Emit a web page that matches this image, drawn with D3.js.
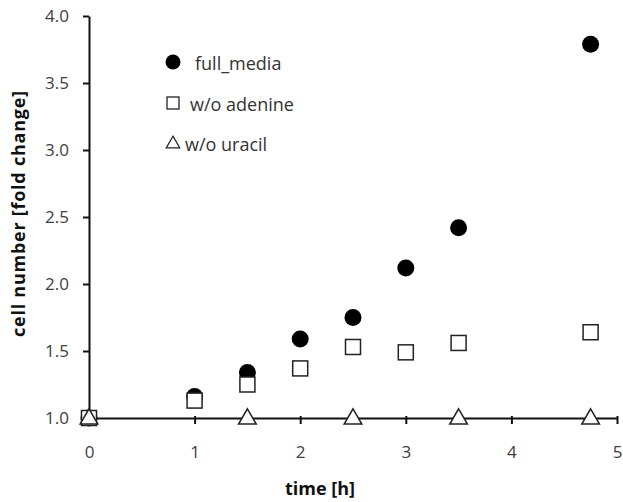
<!DOCTYPE html>
<html lang="en">
<head>
<meta charset="utf-8">
<title>cell number</title>
<script src="https://cdn.jsdelivr.net/npm/d3@7"></script>
<style>
  body { margin: 0; background: #fff; }
  text { font-family: "Open Sans", sans-serif; }
</style>
</head>
<body>
<div id="chart"></div>
<script>
var time = [0, 1, 1.5, 2, 2.5, 3, 3.5, 4.75];
var fullMedia = [1.0, 1.16, 1.34, 1.59, 1.75, 2.12, 2.42, 3.79];
var woAdenine = [1.0, 1.13, 1.25, 1.37, 1.53, 1.49, 1.56, 1.64];
var timeUracil = [0, 1.5, 2.5, 3.5, 4.75];
var woUracil = [1.0, 1.0, 1.0, 1.0, 1.0];
var seriesNames = ["full_media", "w/o adenine", "w/o uracil"];
var xTicks = [0, 1, 2, 3, 4, 5];
var yTicks = [1.0, 1.5, 2.0, 2.5, 3.0, 3.5, 4.0];

var margin = {top: 16, right: 6, bottom: 84, left: 89};
var W = 623, H = 502;

var svg = d3.select("#chart").append("svg")
    .attr("width", W)
    .attr("height", H);
var g = svg.append("g")
    .attr("transform", "translate(" + margin.left + "," + margin.top + ")");

var x = d3.scaleLinear().domain([0, 5]).range([0, 528]);
var y = d3.scaleLinear().domain([1, 4]).range([402, 0]);

var xAxis = d3.axisBottom(x).tickValues(xTicks).tickFormat(d3.format("d"))
    .tickSize(6).tickSizeOuter(0).tickPadding(22);
var yAxis = d3.axisLeft(y).tickValues(yTicks).tickFormat(d3.format(".1f"))
    .tickSize(6).tickSizeOuter(0).tickPadding(14);

var gx = g.append("g").attr("transform", "translate(0," + y(1) + ")").call(xAxis);
var gy = g.append("g").call(yAxis);
[gx, gy].forEach(function(a) {
    a.select(".domain").attr("stroke", "#111").attr("stroke-width", 2);
    a.selectAll(".tick line").attr("stroke", "#111").attr("stroke-width", 2);
    a.selectAll(".tick text").attr("fill", "#404040").style("font-size", "17px")
        .style("font-family", "'Open Sans', sans-serif");
});
// x ticks straddle the axis slightly
gx.selectAll(".tick line").attr("y1", -2);

// axis titles
svg.append("text")
    .attr("transform", "translate(25," + 214 + ") rotate(-90)")
    .attr("text-anchor", "middle")
    .attr("textLength", 246).attr("lengthAdjust", "spacing")
    .style("font-size", "18px").style("font-weight", "bold")
    .attr("fill", "#111")
    .text("cell number [fold change]");
svg.append("text")
    .attr("x", 320).attr("y", 495)
    .attr("text-anchor", "middle")
    .style("font-size", "18px").style("font-weight", "bold")
    .attr("fill", "#111")
    .text("time [h]");

var sym = 7.5;
var tri = d3.symbol().type(d3.symbolTriangle).size(135);

// full media circles
g.selectAll(".full").data(time).enter().append("circle")
    .attr("class", "full")
    .attr("cx", function(d) { return x(d); })
    .attr("cy", function(d, i) { return y(fullMedia[i]); })
    .attr("r", 8.5)
    .attr("fill", "#000");

// w/o adenine squares
g.selectAll(".ade").data(time).enter().append("rect")
    .attr("class", "ade")
    .attr("x", function(d) { return x(d) - sym; })
    .attr("y", function(d, i) { return y(woAdenine[i]) - sym; })
    .attr("width", sym * 2).attr("height", sym * 2)
    .attr("fill", "#fff").attr("stroke", "#222").attr("stroke-width", 1.5);

// w/o uracil triangles
g.selectAll(".ura").data(timeUracil).enter().append("path")
    .attr("class", "ura")
    .attr("d", tri)
    .attr("transform", function(d, i) {
        return "translate(" + x(d) + "," + (y(woUracil[i]) + 1) + ")";
    })
    .attr("fill", "#fff").attr("stroke", "#222").attr("stroke-width", 1.5);

// legend
var legend = svg.append("g");
legend.append("circle").attr("cx", 173).attr("cy", 62).attr("r", 7.5).attr("fill", "#000");
legend.append("rect").attr("x", 167).attr("y", 97).attr("width", 12).attr("height", 12)
    .attr("fill", "#fff").attr("stroke", "#222").attr("stroke-width", 1.3);
legend.append("path").attr("d", d3.symbol().type(d3.symbolTriangle).size(80))
    .attr("transform", "translate(173,144)")
    .attr("fill", "#fff").attr("stroke", "#222").attr("stroke-width", 1.2);
var lx = [195, 190, 185], ly = [70, 111, 151];
legend.selectAll(".lt").data(seriesNames).enter().append("text")
    .attr("class", "lt")
    .attr("x", function(d, i) { return lx[i]; })
    .attr("y", function(d, i) { return ly[i]; })
    .attr("fill", "#333")
    .style("font-size", "18px")
    .text(function(d) { return d; });
</script>
</body>
</html>
